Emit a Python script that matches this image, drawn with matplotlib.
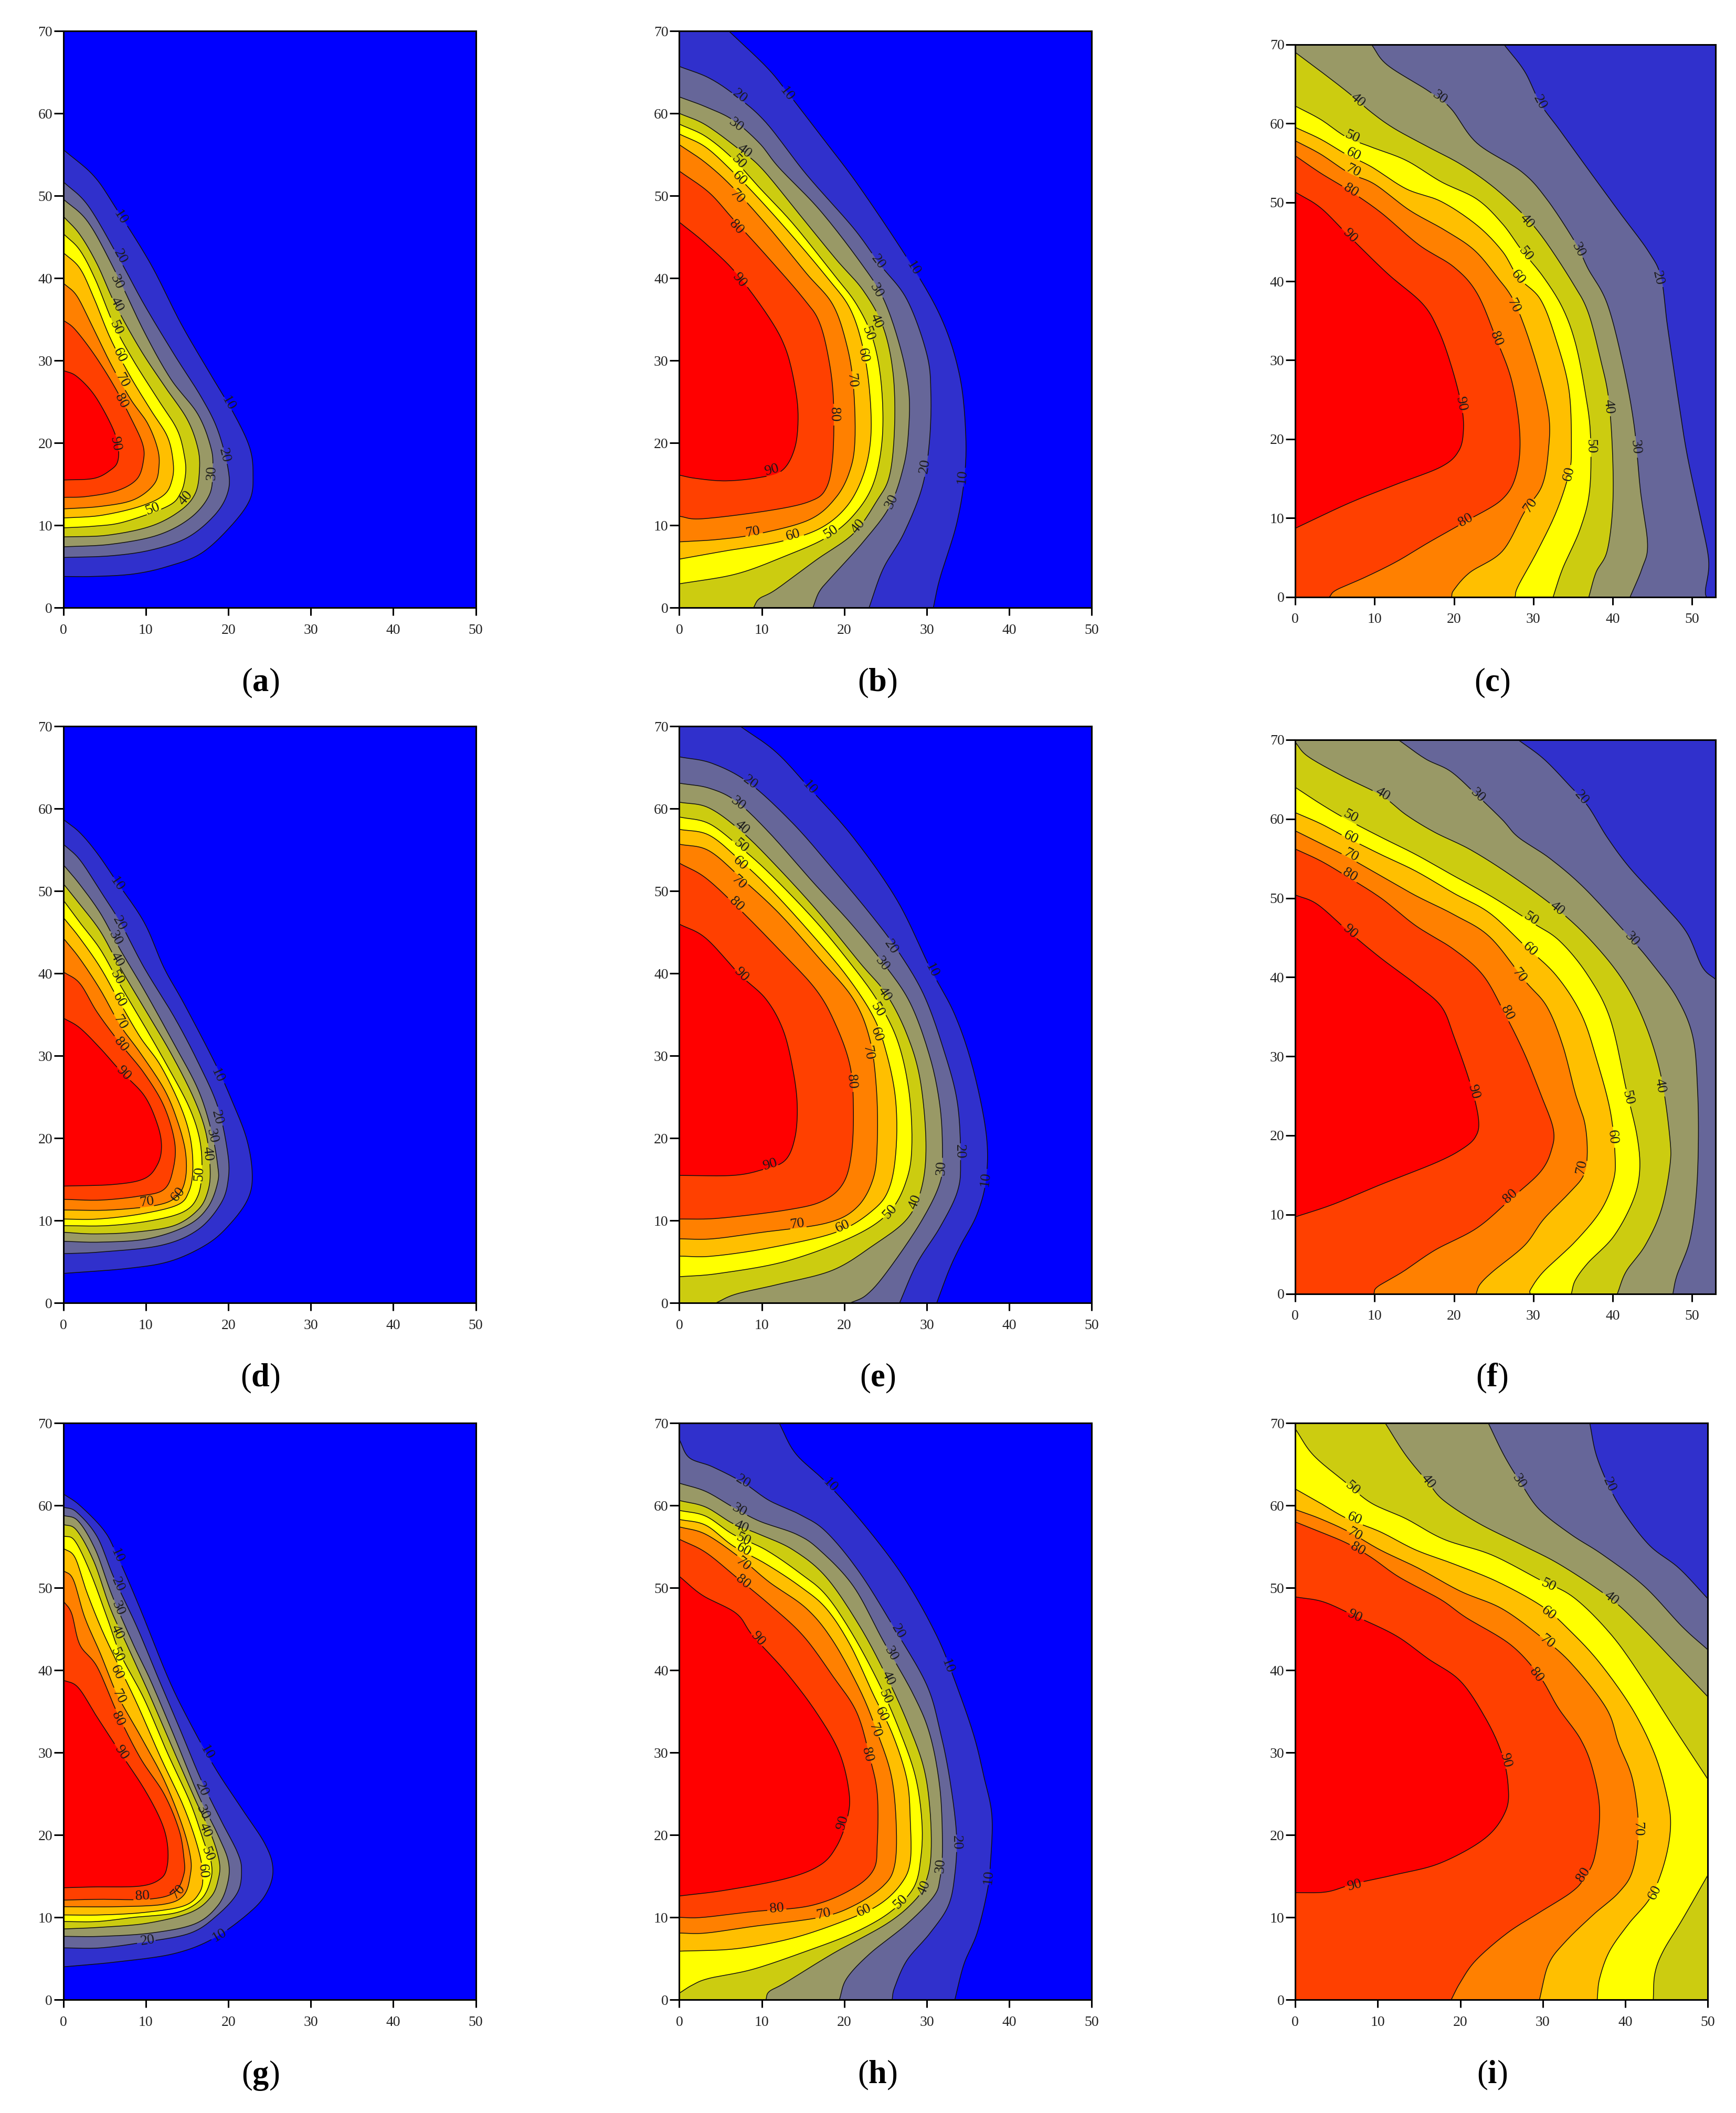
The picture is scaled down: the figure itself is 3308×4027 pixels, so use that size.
import numpy as np
import matplotlib

matplotlib.use("Agg")
import matplotlib.pyplot as plt

plt.rcParams["font.family"] = ["Liberation Serif", "DejaVu Serif"]
plt.rcParams["mathtext.fontset"] = "custom"
plt.rcParams["mathtext.rm"] = "Liberation Serif"
plt.rcParams["mathtext.bf"] = "Liberation Serif:bold"

LEVELS = [10, 20, 30, 40, 50, 60, 70, 80, 90]
BAND_COLORS = ["#0000FF", "#3030CC", "#666699", "#999966", "#CCCC10",
               "#FFFF00", "#FFBF00", "#FF8000", "#FF4000", "#FF0000"]
X_TICKS = [0, 10, 20, 30, 40, 50]
Y_TICKS = [0, 10, 20, 30, 40, 50, 60, 70]

# contour lines, each from the top/left end clockwise
A = {
    10: [(0,55.6),(3.7,52.4),(6.5,48.3),(10.6,41.7),(14.2,34.6),(17.5,28.9),(20.7,23.5),(22.6,19.4),(23,16.1),(22.6,13.1),(20.3,9.9),(16.7,6.6),(12.6,5),(8.5,4.1),(3.7,3.8),(0,3.8)],
    20: [(0,51.7),(3,48.8),(6.7,42.5),(9.8,36.8),(13.4,30.8),(16.7,25.6),(18.7,21.6),(20,16.7),(19.9,13.9),(18.3,11.2),(15,8.5),(10.6,7),(5.7,6.3),(0,6.1)],
    30: [(0,49.6),(3,46.8),(6.3,40.8),(9.8,33.5),(13,27.8),(16.3,23.5),(17.9,19.4),(18.1,16.7),(17.7,13.7),(15.4,10.9),(11.4,8.8),(5.7,7.7),(0,7.4)],
    40: [(0,47.5),(2,45.3),(4.1,41.7),(6.3,36.8),(9.3,31.4),(12.2,27),(15,22.9),(16.3,19.4),(16.5,16.7),(16,13.9),(14.2,11.8),(10.6,9.9),(5.3,8.8),(0,8.6)],
    50: [(0,45.4),(2,43.4),(3.9,39.8),(6.1,34.4),(8.5,30),(11.4,25.4),(13.8,21.6),(14.7,18.3),(14.8,16.1),(14.2,13.9),(12.6,12.3),(7.3,10.4),(3.7,9.9),(0,9.7)],
    60: [(0,43.1),(2,41.2),(3.7,37.6),(5.7,32.7),(8.1,28.1),(10.6,24),(12.6,20.8),(13.3,17.8),(13.2,15.6),(12.2,13.7),(9.3,12.3),(4.5,11.2),(0,10.9)],
    70: [(0,39.4),(1.6,37.9),(3.3,34.6),(5.7,29.7),(8.1,25.4),(10.2,22.4),(11.4,19.4),(11.6,17.2),(11,15),(8.5,13.1),(4.5,12.3),(0,12)],
    80: [(0,34.9),(1.4,33.8),(3.7,30.8),(6.1,27),(8.1,23.2),(9.6,19.9),(9.7,17.8),(8.9,15.6),(6.5,14.2),(2.8,13.5),(0,13.4)],
    90: [(0,28.8),(1.6,28.1),(3.7,25.9),(5.7,22.4),(6.6,19.9),(6.6,17.8),(5.7,16.7),(3.7,15.7),(0,15.5)],
}
A_LABELS = [(10,6.9,47.4),(10,20,24.8),(20,6.9,42.6),(20,19.5,18.5),(30,6.5,39.5),(30,18,16.4),(40,6.5,36.8),(40,14.8,13.3),(50,6.4,34),(50,10.8,12),(60,6.8,30.6),(70,7.1,27.6),(80,7,25.1),(90,6.3,19.9)]

B = {
    10: [(6,70),(10.5,65.7),(13,62.7),(17,57.5),(21.9,51),(28.4,41.2),(32,34.6),(34,28.1),(34.7,21.6),(34.6,16.1),(33.6,10.1),(31.6,3.6),(30.8,0)],
    20: [(0,65.7),(3.6,64.3),(6.9,62.1),(10.5,58.9),(15.4,52.6),(21.1,46.1),(24.3,41.7),(27.6,37.4),(30,30.8),(30.5,25.9),(30.3,19.9),(29.4,14.5),(27.2,9),(24.7,4.7),(23,0)],
    30: [(0,62),(3.2,60.8),(6.5,59.2),(9.7,56.4),(12.1,53.4),(17,48.3),(21.9,42),(24.7,37.6),(26.7,31.9),(27.8,26.5),(27.8,21.6),(27.2,17.2),(25.5,12.3),(22.3,8),(18.6,3.9),(17,2),(16.2,0)],
    40: [(0,60),(3.2,58.6),(7.3,55.6),(10.1,53.2),(14.6,47.7),(19,42.3),(22.3,38.5),(24.7,34.1),(25.9,28.6),(26.1,22.1),(25.5,16.1),(23.9,12.9),(21.1,9),(16.6,5.8),(11.7,2.2),(9.7,1.1),(9,0)],
    50: [(0,58.7),(3.2,57.2),(6.5,54.5),(9.7,51),(13.8,46.6),(18.6,40.6),(21.5,36.8),(23.5,32.5),(24.5,27),(24.6,20.5),(23.5,15),(21.1,11.2),(17.8,8.5),(12.9,6.3),(6.9,4.1),(0,2.9)],
    60: [(0,57.5),(3.2,55.9),(6.5,52.9),(9.7,49.6),(13.8,45),(17.9,40.1),(20.7,36.3),(22.3,31.4),(23.1,25.9),(23.2,20.5),(22.3,16.1),(20.3,12.3),(17,9.6),(12.1,8),(5.6,6.9),(0,5.9)],
    70: [(0,56.2),(3.2,54),(6.5,51),(10.9,46.1),(15.4,40.6),(18.6,36.8),(20.3,31.9),(21.1,27),(21.3,20.5),(20.7,16.7),(19,13.4),(15.8,10.7),(9.7,9),(4.8,8.3),(0,8)],
    80: [(0,53),(3.6,50.4),(6.5,47.2),(10.5,42.8),(15,37.6),(17,34.6),(18.2,29.7),(18.7,24.8),(18.6,18.3),(17.8,14.5),(15.8,12.9),(10.9,11.8),(2.8,10.8),(0,11.1)],
    90: [(0,46.8),(3.2,44.2),(6.9,40.6),(10.9,35.2),(12.9,31.4),(14,27),(14.4,23.2),(14,19.4),(12.5,16.7),(9.7,15.8),(5.6,15.4),(2,15.7),(0,16.1)],
}
B_LABELS = [(10,13,62.4),(10,28.4,41.2),(10,34.3,15.9),(20,7.3,62.1),(20,24.1,42),(20,29.8,17.2),(30,6.9,58.6),(30,23.9,38.5),(30,25.7,12.9),(40,7.9,55.4),(40,23.9,34.8),(40,21.7,9.9),(50,7.2,54.1),(50,22.9,33.3),(50,18.4,9.2),(60,7.3,52.1),(60,22.3,30.6),(60,13.8,8.8),(70,7,49.9),(70,20.9,27.6),(70,8.9,9.2),(80,6.9,46.2),(80,18.8,23.5),(90,7.3,39.8),(90,11.2,16.7)]

C = {
    20: [(26.3,70),(28.9,66.6),(30.9,62.5),(33.3,59.2),(36.9,54.2),(40.9,48.7),(44.5,43.8),(46.1,40.5),(46.9,34.4),(48.1,26.2),(49.3,18.5),(50.9,10.8),(52.1,4.7),(51.7,0.9),(51.8,0)],
    30: [(9.6,70),(11.6,67.4),(16.8,64.1),(19.6,61.9),(22.9,57.5),(28.5,53.9),(31.7,50.4),(35.3,44.9),(36.9,41.6),(39.3,37.2),(41.3,29.5),(42.7,21.8),(43.5,13.5),(44.4,6.7),(43.7,3.6),(42.2,0)],
    40: [(0,69),(3.2,66.6),(6.8,63.8),(9.6,61.4),(12.4,59.4),(16.4,57.2),(20.9,54.8),(24.9,52),(28.5,48.7),(31.3,45.4),(34.9,39.9),(36.9,36.1),(38.5,30),(39.5,25.1),(40,17.9),(40,11.3),(39.3,5.8),(37.9,3.1),(37,0)],
    50: [(0,62.2),(3.2,60.5),(6.4,58.3),(9.6,57),(14,55.3),(18.4,52.6),(22.9,50.4),(26.1,47.3),(28.5,44),(31.3,40.5),(33.7,36.6),(35.3,32.2),(36.5,26.2),(37.2,20.7),(37.1,13.5),(35.9,8.6),(33.7,3.6),(32.5,0)],
    60: [(0,59.5),(3.2,58),(6.4,56.1),(9.6,54.5),(14,51.7),(18.4,50.1),(22.9,47.1),(26.1,43.8),(28.1,40.5),(30.9,37.7),(32.9,32.5),(34.5,26.2),(34.8,19),(34.5,15.7),(32.9,10.8),(30.5,5.8),(28.1,1.4),(27.7,0)],
    70: [(0,57.8),(3.2,56.1),(6.8,53.7),(10,52.3),(14.4,49),(18.8,46.5),(22.5,44),(25.3,40.7),(27.7,37.2),(30.1,30.6),(31.9,23.4),(31.9,18.5),(31.1,14.1),(28.9,10.8),(26.1,5.8),(22,3.1),(20,0.9),(19.7,0)],
    80: [(0,55.9),(3.2,53.7),(6.8,51.5),(10.8,48.7),(15.6,44.6),(20,41.8),(22.9,38.5),(25.3,32.8),(27.3,27.3),(28.3,20.7),(27.9,15.7),(26.1,12.4),(21.7,9.7),(16.8,6.9),(12.8,4.5),(8.8,2.5),(5.2,0.9),(4.3,0)],
    90: [(0,51.3),(3.2,49.3),(6.8,45.7),(11.6,41),(16,37.2),(18,33.9),(19.6,29.5),(20.9,24.5),(21.2,21.2),(20.6,18.5),(18.4,16.5),(12.8,14.3),(6.8,11.9),(0,8.7)],
}
C_LABELS = [(20,30.8,62.7),(20,45.7,40.4),(30,18.2,63.3),(30,35.7,44),(30,42.9,19),(40,7.9,62.9),(40,29.2,47.6),(40,39.5,24.1),(50,7.2,58.3),(50,29,43.5),(50,37.2,19.1),(60,7.3,56.1),(60,28.1,40.5),(60,34.5,15.6),(70,7.3,54),(70,27.5,36.9),(70,29.6,11.6),(80,7,51.5),(80,25.3,32.7),(80,21.5,9.7),(90,6.9,45.8),(90,20.9,24.5)]

D = {
    10: [(0,58.7),(2,57.1),(4.1,54.6),(6.5,51.1),(9.8,46.2),(12.2,40.7),(14.6,36.4),(18.3,29.3),(20.3,24.9),(22.2,20),(22.9,15.7),(22.4,12.7),(20.3,9.7),(17.5,7.2),(13,5.1),(7.7,4.2),(0,3.6)],
    20: [(0,55.7),(2,53.8),(4.5,50),(6.9,46.2),(9.8,40.7),(13.4,34.8),(16.3,29.3),(18.7,23.9),(19.9,18.4),(20,15.1),(19.1,12.1),(16.3,8.9),(11.8,7),(4.5,6.2),(0,6)],
    30: [(0,53.2),(2,50.8),(4.5,47.3),(6.9,42.9),(9.8,38),(13.4,31.5),(16.3,26),(17.9,21.1),(18.7,16.8),(18.7,14.6),(17.5,11.6),(15,9.4),(10.2,7.8),(4.5,7.4),(0,7.5)],
    40: [(0,50.9),(2,48.4),(4.5,45.1),(6.9,40.7),(9.8,35.8),(13,30.4),(15.8,24.9),(17.3,20.6),(17.8,16.2),(17.5,13.5),(16.3,11.3),(13.4,9.4),(8.5,8.6),(3.7,8.4),(0,8.6)],
    50: [(0,48.9),(2,46.2),(4.5,42.9),(6.9,38.6),(9.8,33.7),(12.6,28.8),(15.2,23.9),(16.5,20),(16.8,16.2),(16.3,13),(14.6,11.1),(10.6,10),(5.3,9.4),(0,9.4)],
    60: [(0,46.8),(2,44.3),(4.5,40.7),(6.9,36.4),(9.3,32.3),(11.8,28.8),(14.2,23.9),(15.4,20),(15.7,16.2),(15.2,13.5),(13.8,11.9),(9.3,10.8),(4.1,10.2),(0,10.2)],
    70: [(0,44.3),(2,41.8),(4.5,38),(6.9,33.7),(9.3,30.4),(12.2,26),(13.8,22.2),(14.8,18.4),(14.8,15.1),(13.8,13),(11.4,11.9),(5.7,11.3),(0,11.3)],
    80: [(0,40.2),(2,38.8),(4.1,35.3),(6.9,31.5),(9.8,27.9),(12.2,23.9),(13.5,19.5),(13.3,16.2),(12.2,13.8),(9.3,13),(4.5,12.5),(0,12.6)],
    90: [(0,34.6),(2,33.4),(4.5,30.9),(6.9,28.2),(9.8,25.2),(11.4,21.7),(11.9,19),(11.4,16.8),(9.8,15.1),(6.1,14.4),(0,14.2)],
}
D_LABELS = [(10,6.5,50.9),(10,18.7,27.6),(20,6.8,46.1),(20,18.6,22.5),(30,6.3,44.3),(30,18,20.3),(40,6.5,41.7),(40,17.5,18.1),(50,6.5,39.5),(50,16.5,15.7),(60,6.8,36.8),(60,13.9,13.2),(70,6.9,34.1),(70,10.1,12.3),(80,7,31.4),(90,7.3,27.9)]

E = {
    10: [(7.4,70),(11.7,66.9),(15.8,62.5),(21.1,56.5),(26.4,48.9),(30.4,40.7),(33.4,35),(35.6,28.5),(37.2,20.6),(37.2,15.1),(36.1,10.8),(34.1,7),(32.7,4),(31.2,0)],
    20: [(0,66.3),(4,65.5),(8.5,63.1),(13.8,58.2),(18.6,52.7),(23.1,47.3),(26.4,42.9),(29.6,37.5),(32,30.9),(33.7,24.4),(34.1,17.3),(33.7,13.5),(31.6,9.2),(28.8,4.8),(26.7,0)],
    30: [(0,63.1),(3.6,62.5),(6.9,60.9),(10.9,57.1),(16.2,51.1),(20.7,46.2),(24.7,41.3),(28,36.4),(30.4,29.8),(31.6,23.9),(31.9,18.4),(31.6,14.6),(29.2,9.7),(25.1,3.7),(22.7,1),(20.7,0)],
    40: [(0,60.8),(3.6,60.1),(7.7,57.1),(12.1,52.7),(17,47.3),(21.9,41.3),(25.1,37.5),(27.6,32.6),(29.2,27.1),(29.9,19.5),(29.4,14.1),(27.6,10.2),(23.5,7),(18.6,4),(12.1,2.3),(6.9,1.1),(4.4,0)],
    50: [(0,59),(3.6,58.2),(7.3,55.4),(10.9,52.2),(16.2,46.7),(20.3,41.8),(23.9,36.9),(26.4,32),(27.8,26),(28.2,19.5),(27.6,15.1),(25.5,11.1),(21.1,8.1),(13,5.1),(4.8,3.6),(0,3.2)],
    60: [(0,57.5),(3.6,56.8),(7.3,53.8),(11.3,50),(16.2,44.6),(20.3,39.7),(23.5,34.8),(25.1,30.4),(26.2,24.9),(26.3,19),(25.5,14.1),(23.5,11.3),(19,8.6),(10.9,6.7),(4,5.7),(0,5.7)],
    70: [(0,55.7),(3.6,54.9),(7.7,51.4),(12.1,47.3),(17,41.8),(21.1,36.9),(23.1,32),(23.9,26),(24,19.5),(23.5,15.1),(21.5,11.6),(17.8,9.7),(10.1,8.6),(4,7.8),(0,7.8)],
    80: [(0,53.4),(3.2,51.6),(7.3,47.8),(12.1,42.9),(16.6,38),(19,33.7),(20.7,28.8),(21.1,23.9),(20.9,18.4),(19.9,14.6),(17.4,12.4),(13,11.3),(4.8,10.3),(0,10.2)],
    90: [(0,46),(3.2,44.3),(7.3,39.9),(10.5,36.9),(12.6,33.1),(13.8,28.2),(14.3,23.9),(14,20),(12.8,17.3),(10.1,16.2),(6.5,15.5),(0,15.5)],
}
E_LABELS = [(10,15.8,62.6),(10,30.6,40.4),(10,37.1,15),(20,8.6,63.2),(20,25.7,43.2),(20,34,18.4),(30,7.1,60.6),(30,24.6,41.2),(30,31.8,16.4),(40,7.6,57.7),(40,24.9,37.5),(40,28.6,12.3),(50,7.5,55.5),(50,24,35.6),(50,25.5,11.1),(60,7.4,53.4),(60,23.9,32.6),(60,19.8,9.3),(70,7.2,51.1),(70,22.9,30.4),(70,14.3,9.6),(80,6.9,48.4),(80,20.9,26.9),(90,7.5,39.9),(90,11,16.8)]

F = {
    20: [(28.1,70),(31.3,67.6),(34.5,64.3),(36.9,61.6),(39.3,57.7),(42.1,53.9),(46.1,49.5),(49.3,45.7),(51.3,41.3),(53,39.7)],
    30: [(13,70),(16.4,67.6),(19.6,66),(22.9,63),(26.1,59.9),(28.1,57.7),(32.1,55),(36.5,51.2),(42.1,45.1),(44.9,41.8),(48.1,37.4),(50.1,32.5),(50.7,25.9),(50.8,18.7),(50.5,12.1),(49.7,6.6),(48.1,2.3),(47.6,0)],
    40: [(0,69.7),(1.6,67.9),(6,65.4),(10.8,63),(14,60.5),(17.6,58.3),(22.1,56.1),(27.3,52.8),(32.9,48.7),(37.3,44.6),(41.3,39.6),(44.1,34.1),(46.1,27.5),(47.2,19.8),(47.2,16),(46.1,10.5),(44.1,6.1),(41.7,2.8),(40.6,0)],
    50: [(0,64),(3.2,61.9),(6.4,60),(10.8,57.7),(15.2,55.5),(20,52.8),(24.9,50.1),(29.7,47),(33.3,44.6),(36.9,40.2),(39.7,34.7),(41.7,25.9),(43.1,19.8),(43.4,15.4),(42.5,11.6),(40.1,7.2),(36.9,3.9),(35.3,1.7),(34.8,0)],
    60: [(0,60.8),(3.2,59.4),(6.4,57.7),(10.8,55.5),(15.2,53.4),(20,50.6),(24.5,48.1),(28.9,44),(32.9,40.2),(36.1,35.2),(38.1,29.2),(39.7,23.1),(40.3,17.6),(40.1,14.3),(38.5,10.5),(35.3,6.6),(31.3,2.8),(29.7,0.6),(29.6,0)],
    70: [(0,58.5),(3.2,56.9),(6.4,55.3),(10.8,52.8),(15.2,50.3),(20,47.9),(24.5,45.1),(28.9,39.6),(31.7,36.3),(33.7,31.4),(35.3,25.3),(36.5,21.5),(36.8,17.6),(36.3,14.9),(34.5,12.7),(31.3,9.4),(28.9,6.1),(24.9,2.8),(23.3,1.2),(22.8,0)],
    80: [(0,56.2),(3.2,54.7),(6.4,52.8),(10.8,50),(15.2,46.5),(20,43.5),(23.7,40.2),(26.5,35.2),(28.9,30.3),(30.9,25.3),(32.5,20.9),(32.3,18.2),(30.9,15.4),(27.3,12.1),(22.9,8.3),(17.6,5.5),(13.6,2.8),(10.4,0.9),(9.9,0)],
    90: [(0,50.4),(2.8,49.2),(6.8,45.7),(10.8,42.4),(15.2,39.1),(18.4,36.3),(20,32.5),(22.1,26.4),(23.1,22),(22.7,19.8),(20.9,18.2),(17.6,16.5),(10.8,13.8),(4.8,11.3),(0,9.7)],
}
F_LABELS = [(20,36.1,62.7),(30,23,63),(30,42.4,44.8),(40,11,63.1),(40,33,48.7),(40,46,26.3),(50,7,60.3),(50,29.7,47.4),(50,41.9,24.8),(60,7,57.6),(60,29.6,43.5),(60,40,19.8),(70,7,55.4),(70,28.2,40.2),(70,36.1,16),(80,6.9,52.9),(80,26.7,35.5),(80,27.1,12.3),(90,6.9,45.8),(90,22.5,25.5)]

G = {
    10: [(0,61.4),(2,60),(4.9,57),(6.5,54),(9.3,47.5),(12.6,39.3),(15,34.3),(18.3,28.3),(21.5,23.4),(24.4,19),(25.4,16),(24.8,13.3),(22.8,10.8),(18.3,7.5),(13.4,5.6),(6.5,4.6),(0,4)],
    20: [(0,59.8),(1.6,59.2),(4.1,56.2),(6.1,51.3),(8.9,45.3),(11.4,39.3),(14.2,32.7),(16.7,26.7),(19.1,21.8),(21.1,17.9),(21.6,15.7),(21.1,13),(18.7,10.3),(15.4,8.1),(9.8,7),(4.5,6.3),(0,6.3)],
    30: [(0,58.8),(1.8,58.1),(3.9,54.6),(5.9,49.1),(8.5,43.1),(10.6,38.7),(13.4,32.1),(16.3,25),(18.7,20.1),(20,16.8),(19.9,14.1),(18.7,11.4),(15.9,9.2),(10.6,8.1),(4.5,7.7),(0,7.7)],
    40: [(0,57.7),(1.6,57),(3.7,53.2),(5.7,47.5),(7.7,43.1),(10.2,37.6),(13,31.1),(15.9,24.5),(17.9,20.1),(18.9,16.8),(18.8,14.7),(17.9,12.5),(15.4,10.6),(10.2,9.3),(4.5,8.8),(0,8.6)],
    50: [(0,56.3),(1.4,55.7),(3.3,51.8),(5.3,46.4),(6.9,42),(9.8,36.5),(12.6,30),(15.4,23.9),(17.1,19),(17.9,16.8),(17.9,14.7),(16.7,12.2),(13.8,10.6),(8.5,10),(4.1,9.5),(0,9.5)],
    60: [(0,54.8),(1.4,53.7),(2.8,49.6),(4.5,45.3),(6.3,41.4),(8.9,36),(11.8,29.4),(14.6,23.4),(16.3,18.5),(16.9,15.2),(16.5,13),(14.6,11.4),(9.8,10.6),(4.5,10.3),(0,10.3)],
    70: [(0,52.1),(1.2,51),(2.6,46.4),(4.5,42),(6.5,37.1),(9.3,32.1),(12.2,26.7),(14.4,21.2),(15.4,17.4),(15.4,15.2),(14.6,12.7),(12.2,11.6),(6.5,11.3),(0,11.3)],
    80: [(0,48.4),(1,46.9),(2,43.1),(4.1,40.4),(6.5,34.9),(9.3,29.4),(12.2,25),(14,20.7),(14.6,17.4),(14.6,15.2),(13.4,13),(10.2,12.2),(4.5,12.2),(0,12.1)],
    90: [(0,38.8),(1.8,37.9),(4.1,34.3),(6.9,30),(9.8,25.6),(11.8,21.8),(12.6,19),(12.6,16.3),(11.8,14.7),(9.3,13.8),(3.7,13.7),(0,13.6)],
}
G_LABELS = [(10,6.5,53.9),(10,17.4,30),(10,18.9,7.8),(20,6.6,50.4),(20,16.8,25.6),(20,10.2,7.2),(30,6.6,47.5),(30,16.9,22.7),(40,6.5,44.6),(40,17.2,20.6),(50,6.5,41.9),(50,17.5,17.7),(60,6.5,39.7),(60,16.9,15.6),(70,6.7,36.8),(70,13.9,13.1),(80,6.6,34.1),(80,9.6,12.6),(90,7,30)]

H = {
    10: [(12.1,70),(14.1,66.3),(17.8,62.8),(22.3,57.8),(27.2,51.3),(31.2,44.2),(33.6,38.2),(35.7,32.1),(36.9,27.2),(37.9,22.3),(37.7,16.3),(37.3,13),(36.1,8.1),(34.5,4.3),(33.4,0)],
    20: [(0,68),(1.2,65.8),(4,64.7),(7.7,62.8),(10.9,60.6),(14.6,58.9),(17.8,56.8),(21.9,51.8),(26.3,44.7),(30,38.2),(31.6,32.7),(32.8,26.7),(33.6,20.1),(33.4,15.2),(32.6,11.4),(30.4,8.1),(27.6,4.8),(26.1,1.5),(25.8,0)],
    30: [(0,62.7),(3.2,61.7),(6.5,59.8),(9.7,58.1),(14.2,56.5),(17,54.6),(21.1,50.2),(24.7,43.6),(28.4,37),(30.4,32.1),(31.6,25.6),(31.9,18.5),(31.6,14.7),(30.8,12.5),(27.6,9.2),(23.1,5.6),(20.3,2.6),(19.4,0)],
    40: [(0,60.6),(3.2,59.8),(6.5,57.8),(9.7,56.5),(13.8,54.6),(17.8,51.3),(21.9,45.3),(25.1,39.3),(27.6,33.8),(29.6,28.3),(30.4,22.9),(30.5,17.4),(29.8,14.1),(28.4,11.9),(25.1,9.2),(18.6,5.6),(12.9,2.1),(10.9,1),(10.5,0)],
    50: [(0,59.4),(3.2,58.7),(6.5,56.5),(10.5,54.6),(14.6,51.8),(17.8,49.1),(21.1,44.2),(24.3,38.2),(26.7,32.7),(28.6,27.2),(29.4,21.8),(29.3,17.4),(28.4,13.6),(25.5,10.6),(21.1,8.1),(15.4,5.9),(8.9,3.7),(3.6,2.6),(1.6,1.8),(0,0.8)],
    60: [(0,58.3),(3.2,57.6),(6.5,55.1),(10.5,52.9),(14.6,50.2),(17.8,47.5),(20.7,43.1),(23.5,37.1),(25.9,32.1),(27.6,26.7),(28,21.8),(28,16.8),(26.9,14.1),(24.3,11.6),(20.3,9.7),(13.8,7.5),(6.9,6.2),(0,5.9)],
    70: [(0,57.4),(3.2,56.5),(7.3,53.7),(10.9,50.7),(15.4,47.5),(18.6,43.6),(21.9,37.6),(23.9,32.7),(25.7,27.2),(26.3,21.2),(26.1,16.3),(24.7,13.8),(21.1,11.4),(17,10),(8.9,8.9),(3.2,8.1),(0,8.1)],
    80: [(0,55.9),(3.2,54.3),(6.9,51.3),(10.9,48),(15,44.2),(18.6,39.3),(21.5,34.9),(23.1,29.4),(24,25),(24,19),(23.5,15.7),(20.7,13.3),(15.8,11.4),(8.9,10.7),(2.8,10),(0,10)],
    90: [(0,51.4),(2.8,49.1),(6.9,46.9),(8.9,44.2),(12.9,39.8),(16.6,34.9),(19.4,30),(20.6,25),(20.3,21.8),(19,18.5),(17,16.3),(12.9,14.7),(5.6,13.3),(0,12.6)],
}
H_LABELS = [(10,18.3,62.5),(10,32.5,40.5),(10,37.5,14.9),(20,7.7,62.9),(20,26.5,44.7),(20,33.6,19.1),(30,7.3,59.4),(30,25.7,42),(30,31.7,16.3),(40,7.5,57.4),(40,25.3,39),(40,29.7,13.6),(50,7.8,55.9),(50,25,36.8),(50,26.8,11.9),(60,7.8,54.6),(60,24.5,34.6),(60,22.4,10.8),(70,7.7,52.9),(70,23.7,32.7),(70,17.5,10.4),(80,7.7,50.7),(80,22.8,29.8),(80,11.8,11.1),(90,9.5,43.8),(90,19.8,21.5)]

I = {
    20: [(35.7,70),(36.5,66.1),(38.1,62.2),(40,58.9),(43,55.1),(46.5,52.4),(50,48.7)],
    30: [(23.4,70),(25.3,66.1),(27.3,62.8),(29.6,59.5),(33.4,56.5),(37.3,54),(42.3,50.2),(46.9,45.3),(50,42.5)],
    40: [(10.9,70),(13.4,66.1),(16.1,62.8),(18,60.6),(22.3,57.8),(27.7,55.1),(32.3,52.7),(38.1,48.8),(41.9,45.3),(46.1,40.9),(50,36.8)],
    # the 50 line leaves through the right edge and comes back in below
    50: [(0,69.3),(2.2,66.1),(6.1,62.8),(9.2,60.3),(13.4,58.4),(18,55.9),(23.8,54),(29.6,51),(33.8,48.8),(38.4,44.2),(42.3,38.7),(45.8,33.2),(50,26.8),
         None,(50,15.1),(46.9,9.7),(44.6,5.9),(43.6,3.2),(43.4,0)],
    60: [(0,62),(3,60.3),(6.3,58.4),(10.3,56.8),(14.6,54.6),(19.2,52.9),(24.6,50.7),(30,47.7),(33.4,44.7),(36.9,40.9),(40.8,35.4),(43.5,30),(45,25),(45.5,21.2),(44.8,16.8),(43.1,12.5),(40.4,9.2),(38.1,5.9),(36.9,2.6),(36.6,0)],
    70: [(0,59.5),(3,58.4),(6.5,56.8),(10.3,54.6),(14.9,52.4),(20,49.6),(25,47.5),(29.6,44.2),(33.4,40.9),(37.7,35.4),(39.2,31.1),(40.9,26.7),(41.6,20.7),(40.9,15.7),(39.2,13),(36.1,10.3),(32.7,7),(30.7,4.3),(29.6,0)],
    80: [(0,58),(3,56.8),(6.3,55.4),(9.2,53.7),(12.6,51.3),(17.6,48.6),(20.7,46.4),(26.1,43.1),(29.6,39.3),(31.9,35.4),(34.6,31.6),(36.1,27.8),(36.9,22.9),(36.3,17.4),(35,14.7),(33.4,13),(29.6,10.6),(25.7,8.1),(21.9,4.8),(20,2.1),(18.9,0)],
    90: [(0,48.9),(3.4,48.3),(7.2,46.6),(12.2,44.2),(16.1,41.4),(20,38.7),(23,34.3),(25,30),(25.8,26.1),(25.5,22.9),(23,19.6),(17.6,16.6),(12.2,15.2),(7.2,14.1),(3.8,13.1),(0,13)],
}
I_LABELS = [(20,38.1,62.5),(30,27.1,62.9),(40,16.1,62.9),(40,38.3,48.7),(50,6.9,62.1),(50,30.7,50.3),(60,7.2,58.4),(60,30.7,46.9),(60,43.6,13),(70,7.2,56.5),(70,30.5,43.5),(70,41.5,20.7),(80,7.6,54.7),(80,29.2,39.4),(80,34.9,15.2),(90,7.2,46.6),(90,25.5,29.1),(90,7.2,13.9)]

# letter, contours, labels, (left, top, right, bottom) in pixels of a 1288x1568 page, x limit, caption centre
PANELS = [
    ("a", A, A_LABELS, (47, 23, 353, 451), 50, (193, 507)),
    ("b", B, B_LABELS, (504, 23, 810, 451), 50, (651, 507)),
    ("c", C, C_LABELS, (961, 33, 1273, 443), 53, (1107, 507)),
    ("d", D, D_LABELS, (47, 539, 353, 967), 50, (193, 1023)),
    ("e", E, E_LABELS, (504, 539, 810, 967), 50, (651, 1023)),
    ("f", F, F_LABELS, (961, 549, 1273, 960), 53, (1107, 1023)),
    ("g", G, G_LABELS, (47, 1056, 353, 1484), 50, (193, 1540)),
    ("h", H, H_LABELS, (504, 1056, 810, 1484), 50, (651, 1540)),
    ("i", I, I_LABELS, (961, 1056, 1267, 1484), 50, (1107, 1540)),
]


def split_line(points):
    pieces, cur = [], []
    for p in points:
        if p is None:
            pieces.append(cur)
            cur = []
        else:
            cur.append(p)
    pieces.append(cur)
    return pieces


def smooth(points, steps=12):
    # catmull-rom through the points read off, only so that the line isn't kinked
    pts = np.array(points, dtype=float)
    pad = np.vstack([2 * pts[0] - pts[1], pts, 2 * pts[-1] - pts[-2]])
    out = []
    for i in range(1, len(pad) - 2):
        p0, p1, p2, p3 = pad[i - 1], pad[i], pad[i + 1], pad[i + 2]
        for t in np.linspace(0, 1, steps, endpoint=False):
            out.append(
                0.5
                * (
                    2 * p1
                    + (p2 - p0) * t
                    + (2 * p0 - 5 * p1 + 4 * p2 - p3) * t**2
                    + (3 * p1 - p0 - 3 * p2 + p3) * t**3
                )
            )
    out.append(pts[-1])
    return np.array(out)


def close_region(curves, xmax, ymax=70):
    line = np.vstack(curves)
    start, end = line[0], line[-1]
    extra = []
    if end[0] >= xmax - 1e-6 and end[1] > 0:
        extra.append((xmax, 0))
    if end[0] > 0:
        extra.append((0, 0))
    if start[1] >= ymax - 1e-6:
        extra.append((0, ymax))
    return np.vstack([line] + [np.array(extra).reshape(-1, 2)])


fig = plt.figure(figsize=(33.08, 40.27), dpi=100)

for letter, contours, labels, box, xmax, caption in PANELS:
    left, top, right, bottom = box
    ax = fig.add_axes(
        [left / 1288, 1 - bottom / 1568, (right - left) / 1288, (bottom - top) / 1568]
    )
    ax.set_xlim(0, xmax)
    ax.set_ylim(0, 70)
    lowest = min(contours)
    ax.set_facecolor(BAND_COLORS[LEVELS.index(lowest)])

    curves = {}
    for level in LEVELS:
        if level not in contours:
            continue
        curves[level] = [smooth(p) for p in split_line(contours[level])]
        poly = close_region(curves[level], xmax)
        ax.fill(poly[:, 0], poly[:, 1], color=BAND_COLORS[LEVELS.index(level) + 1], lw=0, zorder=level / 100)

    # labels sit on gaps in their line
    x_scale = (right - left) / xmax
    y_scale = (bottom - top) / 70
    for level, parts in curves.items():
        here = [(lx, ly) for lv, lx, ly in labels if lv == level]
        for part in parts:
            xs, ys = part[:, 0].copy(), part[:, 1].copy()
            for lx, ly in here:
                d = np.hypot((part[:, 0] - lx) * x_scale, (part[:, 1] - ly) * y_scale)
                if d.min() < 4:
                    ys[d < 6] = np.nan
            ax.plot(xs, ys, color="#111111", lw=1.1, zorder=2)

    for level, lx, ly in labels:
        part = min(
            curves[level],
            key=lambda c: np.hypot(c[:, 0] - lx, c[:, 1] - ly).min(),
        )
        k = np.argmin(np.hypot(part[:, 0] - lx, part[:, 1] - ly))
        a, b = part[max(k - 4, 0)], part[min(k + 4, len(part) - 1)]
        angle = np.degrees(
            np.arctan2((b[1] - a[1]) * y_scale, (b[0] - a[0]) * x_scale)
        )
        if angle > 90:
            angle -= 180
        elif angle < -90:
            angle += 180
        ax.text(lx, ly, str(level), fontsize=20, color="#1a1a1a", rotation=angle,
                rotation_mode="anchor", ha="center", va="center", zorder=3)

    ax.set_xticks(X_TICKS)
    ax.set_yticks(Y_TICKS)
    ax.tick_params(axis="y", length=13, width=2.2, labelsize=20, pad=2, labelcolor="#222222")
    ax.tick_params(axis="x", length=11, width=2.2, labelsize=20, pad=11, labelcolor="#222222")
    for spine in ax.spines.values():
        spine.set_linewidth(2.2)
        spine.set_zorder(4)

    fig.text(caption[0] / 1288, 1 - caption[1] / 1568, rf"($\mathbf{{{letter}}}$)",
             fontsize=45, ha="center", va="center", color="black")

fig.savefig("out.png", dpi=100)
